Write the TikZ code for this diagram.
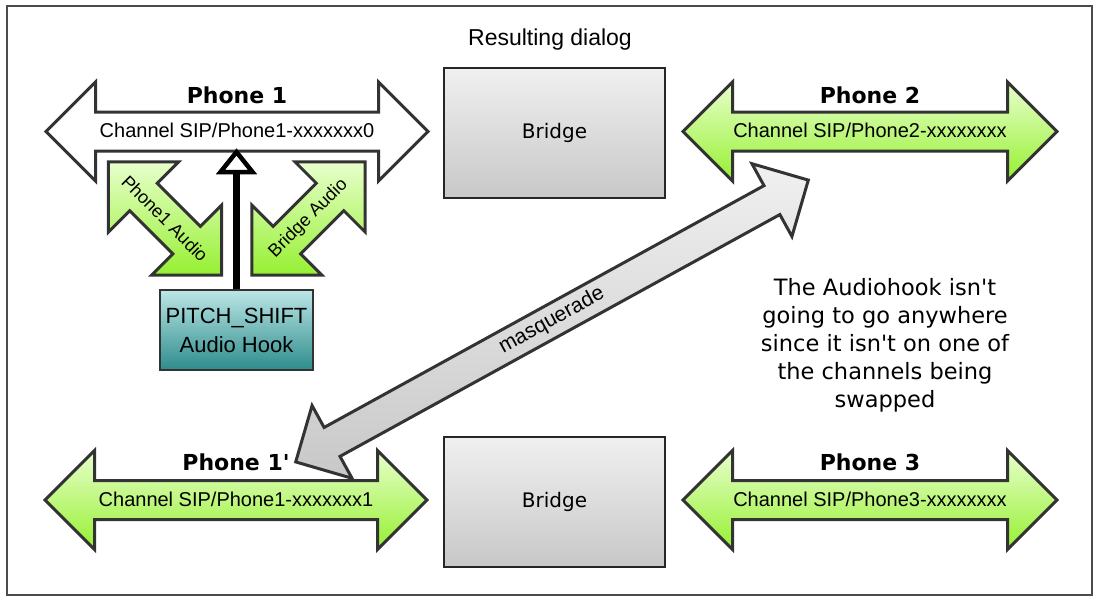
\documentclass[tikz,border=0pt]{standalone}
\usepackage{fontspec}
\usepackage{tikz}
\usetikzlibrary{positioning}
\usetikzlibrary{shapes.arrows}
\newfontfamily\lsans{Liberation Sans}
\newfontfamily\dvsans[Ligatures=TeXOff]{DejaVu Sans}
\definecolor{greentop}{RGB}{232,255,204}
\definecolor{greenbot}{RGB}{150,240,50}
\definecolor{tealtop}{RGB}{188,230,230}
\definecolor{tealbot}{RGB}{46,140,140}
\definecolor{graytop}{RGB}{240,240,240}
\definecolor{graybot}{RGB}{200,200,200}
\definecolor{edge}{RGB}{51,51,51}
\pgfdeclarelayer{nodelayer}
\pgfdeclarelayer{edgelayer}
\pgfsetlayers{edgelayer,nodelayer,main}
\tikzset{chan/.style={double arrow, double arrow tip angle=90, double arrow head extend=30pt,
draw=edge, line width=3pt, minimum width=96pt, inner xsep=0pt, inner ysep=9pt,
text height=15pt, text depth=3pt, font=\lsans\fontsize{20}{24}\selectfont}}
\tikzset{lime/.style={top color=greentop, bottom color=greenbot}}
\tikzset{phone/.style={inner sep=0pt, font=\dvsans\bfseries\fontsize{22}{26}\selectfont}}
\tikzset{bridgebox/.style={draw=black!85, line width=2pt, top color=graytop, bottom color=graybot,
minimum width=221pt, minimum height=130pt, font=\dvsans\fontsize{20}{24}\selectfont}}
\tikzset{audio/.style={chan, lime, minimum height=160pt}}
\tikzset{audiotext/.style={inner sep=0pt, font=\lsans\fontsize{18}{22}\selectfont}}
\tikzset{hook/.style={draw=edge, line width=2.5pt, top color=tealtop, bottom color=tealbot,
minimum width=153pt, minimum height=80pt, align=center, inner sep=0pt,
font=\lsans\fontsize{22}{29}\selectfont}}
\tikzset{masq/.style={double arrow, double arrow tip angle=90, double arrow head extend=25pt,
draw=edge, line width=3pt, top color=graytop, bottom color=graybot, minimum width=80pt,
minimum height=585pt, inner xsep=0pt, inner ysep=6pt, text height=14pt, text depth=4pt,
font=\lsans\fontsize{21}{25}\selectfont}}
\tikzset{note/.style={align=center, inner sep=0pt, font=\dvsans\fontsize{22.5}{28}\selectfont}}
\tikzset{title/.style={inner sep=0pt, font=\lsans\fontsize{23}{27}\selectfont}}
\tikzset{frame/.style={draw=black!70, line width=2pt}}
\tikzset{hookline/.style={line width=7pt}}
\tikzset{openhead/.style={draw=black, fill=white, line width=4.5pt, line join=miter}}

\begin{document}
\begin{tikzpicture}[x=1pt,y=-1pt]
	\useasboundingbox (0,0) rectangle (1094,598);
	\begin{pgfonlayer}{nodelayer}
		\node [style=chan, fill=white, minimum height=382pt] (0) at (237,131.5) {Channel SIP/Phone1-xxxxxxx0};
		\node [style=phone, above=27pt of 0.center] (1) {Phone 1};
		\node [style=chan, style=lime, minimum height=374pt] (2) at (870,131.5) {Channel SIP/Phone2-xxxxxxxx};
		\node [style=phone, above=27pt of 2.center] (3) {Phone 2};
		\node [style=chan, style=lime, minimum height=382pt] (4) at (236,500) {Channel SIP/Phone1-xxxxxxx1};
		\node [style=phone, above=29pt of 4.center] (5) {Phone 1'};
		\node [style=chan, style=lime, minimum height=374pt] (6) at (870,500) {Channel SIP/Phone3-xxxxxxxx};
		\node [style=phone, above=29pt of 6.center] (7) {Phone 3};
		\node [style=bridgebox] (8) at (554.5,132.5) {Bridge};
		\node [style=bridgebox] (9) at (554.5,501.5) {Bridge};
		\node [style=audio, rotate=-45] (10) at (165,218.5) {};
		\node [style=audiotext, rotate=-45] (11) at (10.center) {Phone1 Audio};
		\node [style=audio, rotate=45] (12) at (308.5,218.5) {};
		\node [style=audiotext, rotate=45] (13) at (12.center) {Bridge Audio};
		\node [style=hook] (14) at (236.5,330) {PITCH\_SHIFT\\Audio Hook};
		\node [style=masq, rotate=28.8] (15) at (552,321) {masquerade};
		\node [style=note] (16) at (885,345) {The Audiohook isn't\\going to go anywhere\\since it isn't on one of\\the channels being\\swapped};
		\node [style=title] (17) at (550,40) {Resulting dialog};
		\coordinate (18) at ([yshift=-20.5pt]0.center);
		\coordinate (19) at ([yshift=-20pt]18);
	\end{pgfonlayer}
	\begin{pgfonlayer}{edgelayer}
		\draw [style=frame] (7,6) rectangle (1092,595);
	\end{pgfonlayer}
	\draw [style=hookline] (14.north) -- (14.north |- 19);
	\draw [style=openhead] (14.north |- 18) -- ++(-16,20) -- ++(32,0) -- cycle;
\end{tikzpicture}
\end{document}
